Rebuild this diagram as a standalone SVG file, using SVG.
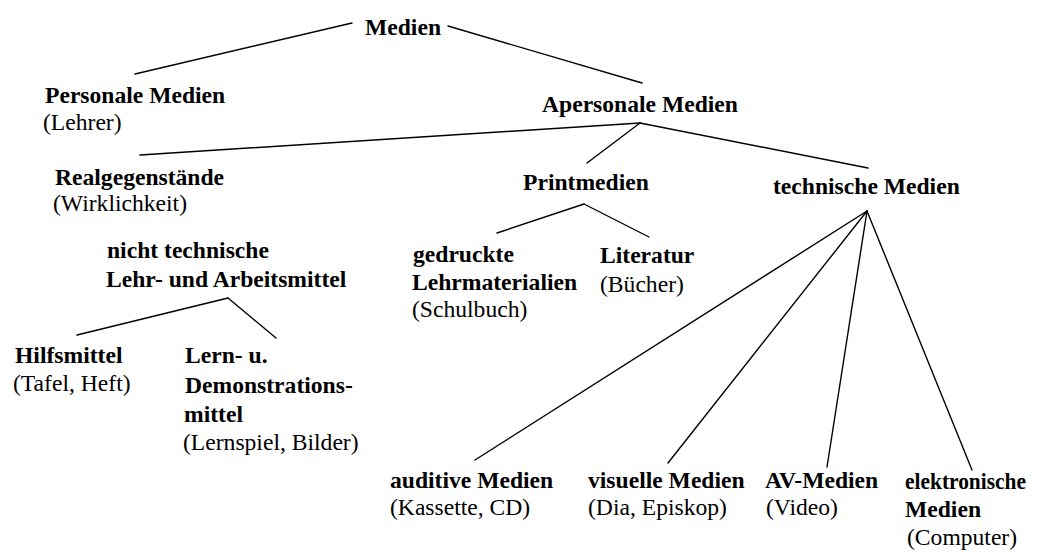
<svg xmlns="http://www.w3.org/2000/svg" width="1043" height="556" viewBox="0 0 1043 556">
  <style>
    text { font-family: "Liberation Serif", "Times New Roman", serif; font-size: 23.6px; fill: #000; }
    .b { font-weight: bold; }
    .edge { stroke: #000; stroke-width: 1.4; fill: none; stroke-linecap: round; }
  </style>
  <rect width="1043" height="556" fill="#fff"/>

  <!-- tree branches -->
  <g id="connectors">
    <line class="edge" x1="352" y1="23" x2="135" y2="74"/>
    <line class="edge" x1="448" y1="26" x2="642" y2="83"/>
    <line class="edge" x1="640" y1="123" x2="140" y2="155"/>
    <line class="edge" x1="640" y1="123" x2="587" y2="163"/>
    <line class="edge" x1="640" y1="123" x2="868" y2="168"/>
    <line class="edge" x1="584" y1="204" x2="497" y2="233"/>
    <line class="edge" x1="584" y1="204" x2="649" y2="237"/>
    <line class="edge" x1="228" y1="298" x2="77" y2="335"/>
    <line class="edge" x1="228" y1="298" x2="276" y2="338"/>
    <line class="edge" x1="867" y1="211" x2="475" y2="460"/>
    <line class="edge" x1="867" y1="211" x2="668" y2="463"/>
    <line class="edge" x1="867" y1="211" x2="827" y2="467"/>
    <line class="edge" x1="867" y1="211" x2="972" y2="470"/>
  </g>

  <g id="medien"><text class="b" x="365" y="35">Medien</text></g>

  <g id="personale">
    <text class="b" x="45" y="103">Personale Medien</text>
    <text x="43" y="130">(Lehrer)</text>
  </g>

  <g id="apersonale"><text class="b" x="542" y="112">Apersonale Medien</text></g>

  <g id="realgegenstaende">
    <text class="b" x="55" y="185">Realgegenstände</text>
    <text x="53" y="211">(Wirklichkeit)</text>
  </g>

  <g id="nicht-technische">
    <text class="b" x="107" y="258">nicht technische</text>
    <text class="b" x="106" y="287">Lehr- und Arbeitsmittel</text>
  </g>

  <g id="hilfsmittel">
    <text class="b" x="15" y="363">Hilfsmittel</text>
    <text x="13" y="391">(Tafel, Heft)</text>
  </g>

  <g id="demonstrationsmittel">
    <text class="b" x="185" y="363">Lern- u.</text>
    <text class="b" x="185" y="393">Demonstrations-</text>
    <text class="b" x="184" y="422">mittel</text>
    <text x="183" y="450">(Lernspiel, Bilder)</text>
  </g>

  <g id="printmedien"><text class="b" x="523" y="190">Printmedien</text></g>

  <g id="gedruckte">
    <text class="b" x="413" y="262">gedruckte</text>
    <text class="b" x="412" y="290">Lehrmaterialien</text>
    <text x="412" y="317">(Schulbuch)</text>
  </g>

  <g id="literatur">
    <text class="b" x="600" y="263">Literatur</text>
    <text x="600" y="292">(Bücher)</text>
  </g>

  <g id="technische"><text class="b" x="773" y="194">technische Medien</text></g>

  <g id="auditive">
    <text class="b" x="390" y="488">auditive Medien</text>
    <text x="390" y="515">(Kassette, CD)</text>
  </g>

  <g id="visuelle">
    <text class="b" x="588" y="488">visuelle Medien</text>
    <text x="588" y="515">(Dia, Episkop)</text>
  </g>

  <g id="av">
    <text class="b" x="765" y="488">AV-Medien</text>
    <text x="766" y="515">(Video)</text>
  </g>

  <g id="elektronische">
    <text class="b" x="905" y="489" textLength="121" lengthAdjust="spacingAndGlyphs">elektronische</text>
    <text class="b" x="905" y="517">Medien</text>
    <text x="907" y="545">(Computer)</text>
  </g>
</svg>
